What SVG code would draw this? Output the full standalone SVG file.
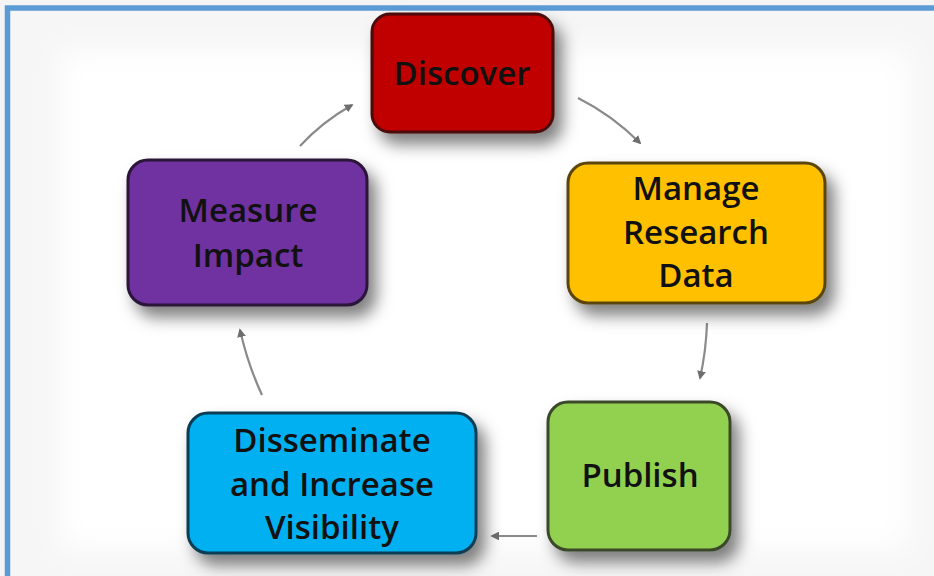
<svg xmlns="http://www.w3.org/2000/svg" width="934" height="576" viewBox="0 0 934 576">
<defs>
<filter id="sh" x="-20%" y="-20%" width="150%" height="160%">
<feDropShadow dx="8" dy="11" stdDeviation="8" flood-color="#000" flood-opacity="0.5"/>
</filter>
<filter id="soft" x="-10%" y="-10%" width="120%" height="120%">
<feGaussianBlur stdDeviation="14"/>
</filter>
<marker id="ah" viewBox="0 0 10 10" refX="8" refY="5" markerWidth="4" markerHeight="4" orient="auto">
<path d="M0,0 L10,5 L0,10 z" fill="#6e6e6e"/>
</marker>
<style>
.box{stroke-width:3;filter:url(#sh)}
.t{font-family:"Open Sans","DejaVu Sans",sans-serif;font-size:33px;font-weight:600;fill:#111;text-anchor:middle}
.c{fill:none;stroke:#8a8a8a;stroke-width:2.2;marker-end:url(#ah)}
</style>
</defs>
<rect x="0" y="0" width="934" height="576" fill="#f4f4f4"/>
<rect x="10" y="11" width="930" height="570" fill="#f6f6f6"/>
<rect x="60" y="50" width="850" height="500" fill="#ffffff" filter="url(#soft)"/>
<rect x="7.5" y="8" width="940" height="580" fill="none" stroke="#5B9BD5" stroke-width="5.5"/>
<g id="connectors">
<path class="c" d="M578,98 Q612,115 640,143"/>
<path class="c" d="M707,323 Q706,352 700,378"/>
<path class="c" d="M537,536 L492,536"/>
<path class="c" d="M262,395 Q248,365 240,330"/>
<path class="c" d="M300,146 Q322,122 352,105"/>
</g>
<g id="discover">
<rect class="box" x="372" y="14" width="181" height="118" rx="18" fill="#C00000" stroke="#4a0a0a"/>
<text class="t" x="462" y="85">Discover</text>
</g>
<g id="manage">
<rect class="box" x="568" y="163" width="257" height="140" rx="20" fill="#FFC000" stroke="#5a4510"/>
<text class="t" x="696" y="200">Manage</text>
<text class="t" x="696" y="244">Research</text>
<text class="t" x="696" y="287">Data</text>
</g>
<g id="publish">
<rect class="box" x="548" y="402" width="182" height="148" rx="20" fill="#92D050" stroke="#3a4a2a"/>
<text class="t" x="640" y="487">Publish</text>
</g>
<g id="disseminate">
<rect class="box" x="188" y="413" width="288" height="140" rx="20" fill="#00B0F0" stroke="#0a3c55"/>
<text class="t" x="332" y="452">Disseminate</text>
<text class="t" x="332" y="496">and Increase</text>
<text class="t" x="332" y="539">Visibility</text>
</g>
<g id="measure">
<rect class="box" x="128" y="160" width="239" height="145" rx="20" fill="#7030A0" stroke="#2a1438"/>
<text class="t" x="248" y="222">Measure</text>
<text class="t" x="248" y="267">Impact</text>
</g>
</svg>
